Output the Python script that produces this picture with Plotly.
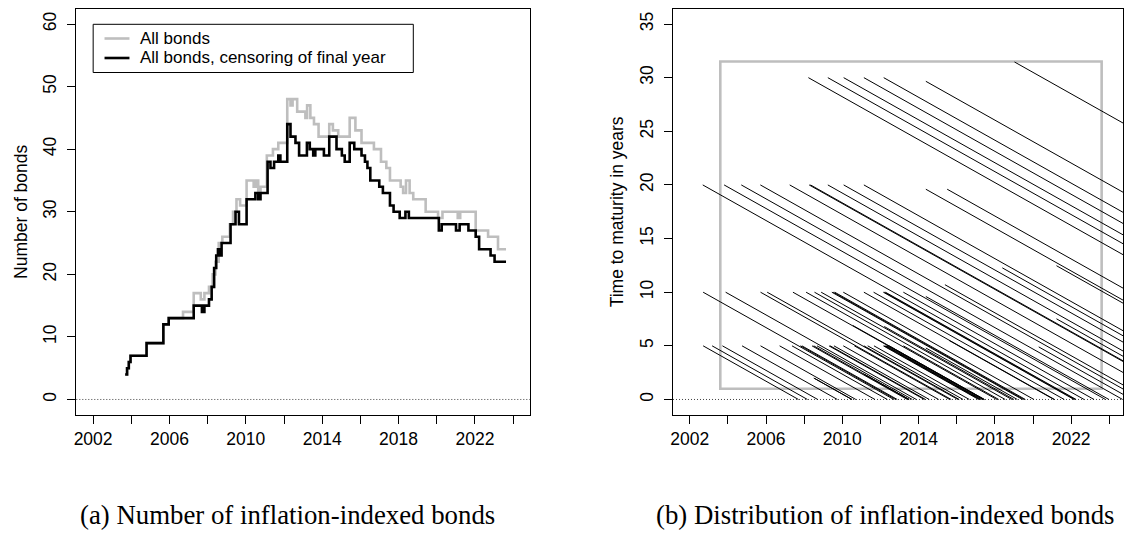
import plotly.graph_objects as go

# ---------------- data: left panel (number of bonds, change points) ----------------
all_dates = [2003.68, 2003.78, 2003.87, 2003.96, 2004.80, 2005.68, 2005.96, 2006.71, 2007.27, 2007.64,
             2007.83, 2008.07, 2008.26, 2008.41, 2008.58, 2008.77, 2009.16, 2009.33, 2009.51, 2009.70,
             2010.04, 2010.41, 2010.54, 2010.65, 2010.77, 2011.10, 2011.42, 2011.70, 2012.17, 2012.34,
             2012.45, 2012.69, 2013.12, 2013.21, 2013.38, 2013.57, 2013.81, 2014.37, 2014.56, 2014.84,
             2015.44, 2015.74, 2016.06, 2016.71, 2017.08, 2017.36, 2017.55, 2018.11, 2018.24, 2018.39,
             2018.58, 2018.77, 2019.42, 2020.07, 2020.30, 2021.10, 2021.23, 2022.04, 2022.69, 2023.21,
             2023.63]
all_counts = [4, 5, 6, 7, 9, 12, 13, 14, 17, 16,
              17, 18, 20, 22, 25, 26, 28, 30, 32, 31,
              35, 34, 35, 33, 34, 39, 40, 41, 48, 47,
              48, 46, 45, 47, 45, 44, 42, 44, 43, 42,
              45, 43, 41, 40, 38, 37, 35, 34, 33, 35,
              33, 32, 30, 29, 30, 29, 30, 27, 26, 24,
              24]

cens_dates = [2003.68, 2003.78, 2003.87, 2003.96, 2004.80, 2005.68, 2005.96, 2007.27, 2007.70, 2007.83,
              2008.07, 2008.21, 2008.34, 2008.45, 2008.54, 2008.64, 2008.73, 2009.20, 2009.46, 2009.64,
              2010.04, 2010.50, 2010.65, 2010.77, 2011.14, 2011.29, 2011.48, 2011.70, 2011.81, 2012.17,
              2012.34, 2012.60, 2012.79, 2013.20, 2013.35, 2013.53, 2013.64, 2014.09, 2014.37, 2014.75,
              2015.03, 2015.18, 2015.44, 2015.68, 2016.06, 2016.24, 2016.37, 2016.52, 2016.99, 2017.18,
              2017.55, 2017.74, 2018.06, 2018.36, 2018.54, 2020.11, 2020.26, 2021.01, 2021.20, 2021.66,
              2022.04, 2022.22, 2022.82, 2023.03, 2023.63]
cens_counts = [4, 5, 6, 7, 9, 12, 13, 15, 14, 15,
               16, 18, 21, 23, 24, 23, 25, 28, 30, 28,
               32, 33, 32, 33, 38, 37, 38, 39, 38, 44,
               42, 41, 39, 41, 40, 39, 40, 39, 42, 40,
               39, 38, 41, 40, 39, 38, 37, 35, 34, 33,
               31, 30, 29, 30, 29, 27, 28, 27, 28, 27,
               26, 24, 23, 22, 22]

series_names = ["All bonds", "All bonds, censoring of final year"]

# ---------------- data: right panel (bonds: first observation date, time to maturity then) -------
bond_start = [
    # 30-year segment
    2008.22, 2009.24, 2010.07, 2011.13, 2012.17, 2014.38, 2019.03,
    # 20-year segment
    2002.68, 2003.80, 2004.70, 2005.70, 2007.24, 2008.26, 2008.33, 2009.24, 2010.07, 2011.13,
    2014.38, 2015.50,
    # irregular starts
    2018.39, 2021.23, 2015.38, 2021.23, 2010.55, 2012.20, 2015.60, 2008.50, 2008.56, 2011.10, 2011.20,
    # 10-year segment
    2002.70, 2003.88, 2005.71, 2006.06, 2007.41, 2008.10, 2008.54, 2008.89, 2009.45, 2009.52,
    2009.60, 2010.05, 2011.13, 2011.64, 2012.15, 2012.20, 2012.26, 2013.20, 2014.38,
    # 5-year segment
    2002.70, 2003.17, 2003.71, 2004.74, 2005.71, 2006.71, 2007.36, 2007.80, 2007.88, 2008.41,
    2008.50, 2008.67, 2009.30, 2009.36, 2009.56, 2010.05, 2010.63, 2011.13, 2011.33, 2011.66,
    2012.15, 2012.20, 2012.25, 2012.30, 2012.38, 2012.45, 2013.20, 2014.38, 2020.30,
]
bond_ttm = [
    30, 30, 30, 30, 30, 29.66, 31.46,
    20, 20, 20, 20, 20, 20, 20, 20, 20, 20,
    19.6, 19.6,
    12.27, 12.47, 10.7, 7.52, 6.9, 6.8, 5.5, 2.0, 1.95, 2.4, 2.3,
    10, 10, 10, 10, 10, 10, 10, 10, 10, 10,
    10, 10, 10, 10, 10, 10, 10, 10, 9.6,
    5, 5, 5, 5, 5, 5, 5, 5, 5, 5,
    5, 5, 5, 5, 5, 5, 5, 5, 5, 5,
    5, 5, 5, 5, 5, 5, 5, 4.8, 4.9,
]

# sample window shown as grey rectangle
window_start, window_end = 2003.6, 2023.6
ttm_low, ttm_high = 1.0, 31.5

x_tick_vals = list(range(2002, 2025, 2))
x_tick_text = ["2002", "", "2006", "", "2010", "", "2014", "", "2018", "", "2022", ""]
left_y_ticks = [0, 10, 20, 30, 40, 50, 60]
right_y_ticks = [0, 5, 10, 15, 20, 25, 30, 35]

GREY = "#BEBEBE"
SANS = "Liberation Sans, Arial, sans-serif"
SERIF = "Liberation Serif, Times New Roman, serif"
W, H = 1126, 539

# build bond segments
bx, by = [], []
for s, m in zip(bond_start, bond_ttm):
    bx += [s, s + m, None]
    by += [m, 0, None]

fig = go.Figure()
fig.add_trace(go.Scatter(x=all_dates, y=all_counts, mode="lines", line=dict(color=GREY, width=2.6, shape="hv"),
                         name=series_names[0], xaxis="x", yaxis="y"))
fig.add_trace(go.Scatter(x=cens_dates, y=cens_counts, mode="lines", line=dict(color="black", width=2.6, shape="hv"),
                         name=series_names[1], xaxis="x", yaxis="y"))
fig.add_trace(go.Scatter(x=bx, y=by, mode="lines", line=dict(color="black", width=1),
                         showlegend=False, xaxis="x2", yaxis="y2", hoverinfo="skip"))


def px_x(p):
    return p / W


def px_y(p):
    return 1 - p / H


ydom = [px_y(414.5), px_y(9)]
common_x = dict(tickmode="array", tickvals=x_tick_vals, ticktext=x_tick_text,
                ticks="outside", ticklen=8, tickwidth=1, tickcolor="black", showline=True, mirror=True,
                linecolor="black", linewidth=1, showgrid=False, zeroline=False,
                tickfont=dict(family=SANS, size=17.5, color="black"))
common_y = dict(tickmode="array", tickangle=-90, ticks="outside", ticklen=8, tickwidth=1, tickcolor="black",
                showline=True, mirror=True, linecolor="black", linewidth=1, showgrid=False, zeroline=False,
                ticklabelstandoff=4,
                tickfont=dict(family=SANS, size=17.5, color="black"), domain=ydom)

fig.update_layout(
    width=W, height=H, margin=dict(l=0, r=0, t=0, b=0),
    paper_bgcolor="white", plot_bgcolor="white",
    xaxis=dict(domain=[px_x(73.5), px_x(528.3)], range=[2001.12, 2024.88], anchor="y", **common_x),
    yaxis=dict(range=[-2.4, 62.4], tickvals=left_y_ticks, anchor="x", **common_y),
    xaxis2=dict(domain=[px_x(671.8), px_x(1123)], range=[2001.12, 2024.72], anchor="y2", **common_x),
    yaxis2=dict(range=[-1.4, 36.4], tickvals=right_y_ticks, anchor="x2", **common_y),
    showlegend=False,
)

# legend box drawn in the style of the original (two rows, tight spacing)
leg_rows_y = [38.5, 58.0]
leg_colors = [GREY, "black"]
shapes = [
    dict(type="line", xref="x domain", yref="y", x0=0, x1=1, y0=0, y1=0,
         line=dict(color="#444444", width=1, dash="1px,2px"), layer="below"),
    dict(type="line", xref="x2 domain", yref="y2", x0=0, x1=1, y0=0, y1=0,
         line=dict(color="#444444", width=1, dash="1px,2px"), layer="below"),
    dict(type="rect", xref="x2", yref="y2", x0=window_start, x1=window_end, y0=ttm_low, y1=ttm_high,
         line=dict(color=GREY, width=2.6), fillcolor="rgba(0,0,0,0)", layer="below"),
    dict(type="rect", xref="paper", yref="paper", x0=px_x(90.4), x1=px_x(411.4), y0=px_y(72.5), y1=px_y(24.3),
         line=dict(color="black", width=1), fillcolor="white", layer="above"),
]
annotations = [
    dict(text="Number of bonds", x=px_x(18), y=px_y(212), xref="paper", yref="paper", showarrow=False,
         xanchor="center", yanchor="middle", textangle=-90, font=dict(family=SANS, size=17.5, color="black")),
    dict(text="Time to maturity in years", x=px_x(616), y=px_y(212), xref="paper", yref="paper", showarrow=False,
         xanchor="center", yanchor="middle", textangle=-90, font=dict(family=SANS, size=17.5, color="black")),
    dict(text="(a) Number of inflation-indexed bonds", x=px_x(285.5), y=px_y(515), xref="paper", yref="paper",
         xanchor="center", yanchor="middle", showarrow=False, font=dict(family=SERIF, size=26.8, color="black")),
    dict(text="(b) Distribution of inflation-indexed bonds", x=px_x(884), y=px_y(515), xref="paper", yref="paper",
         xanchor="center", yanchor="middle", showarrow=False, font=dict(family=SERIF, size=26.8, color="black")),
]
for ry, col, name in zip(leg_rows_y, leg_colors, series_names):
    shapes.append(dict(type="line", xref="paper", yref="paper", x0=px_x(101.8), x1=px_x(126.8),
                       y0=px_y(ry), y1=px_y(ry), line=dict(color=col, width=2.6), layer="above"))
    annotations.append(dict(text=name, x=px_x(136.5), y=px_y(ry), xref="paper", yref="paper", showarrow=False,
                            xanchor="left", yanchor="middle", borderpad=0,
                            font=dict(family=SANS, size=17, color="black")))

fig.update_layout(shapes=shapes, annotations=annotations)

# remove the default page margin so the figure fills the window exactly
fig.write_html("out.html", config=dict(displayModeBar=False),
               post_script="document.body.style.margin='0';"
                           "document.documentElement.style.overflow='hidden';")
